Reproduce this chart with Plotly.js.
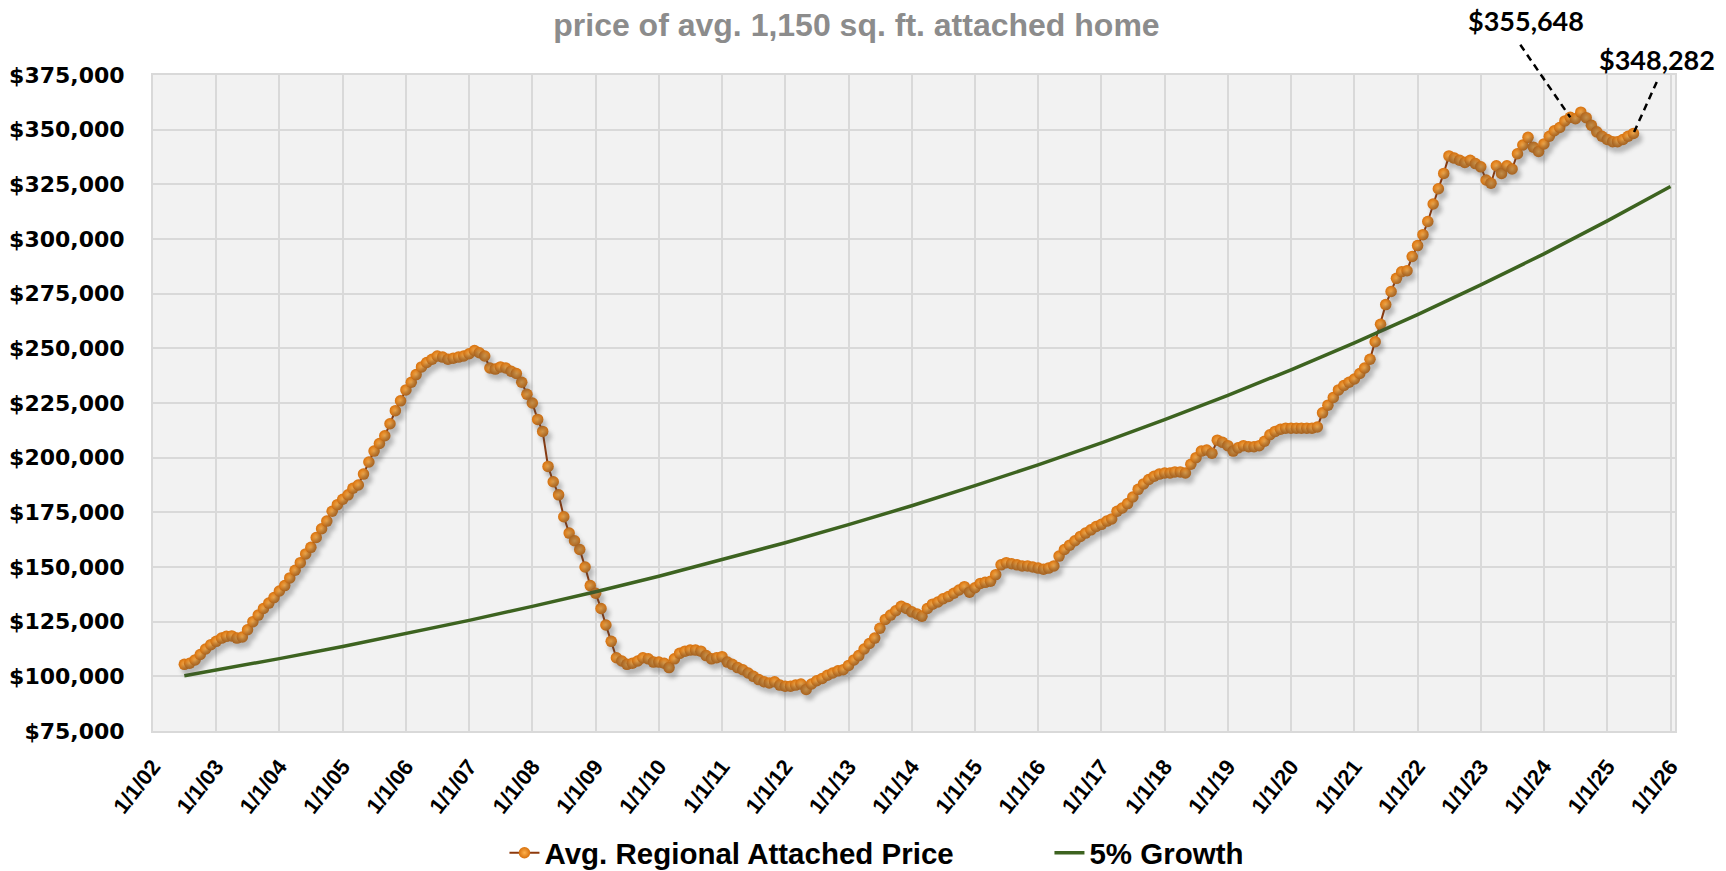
<!DOCTYPE html>
<html>
<head>
<meta charset="utf-8">
<script src="https://cdn.plot.ly/plotly-3.0.1.min.js"></script>
<style>
  html, body { margin: 0; padding: 0; background: #ffffff; }
  #chart { width: 1726px; height: 871px; }
</style>
</head>
<body>
<div id="chart"></div>
<script>
// ---------------- DATA ----------------
// Monthly average regional attached price, starting July 2002 (first of month)
const priceStartYear = 2002;
const priceStartMonth = 7;
const priceValues = [
  105500, 106000, 107500, 110000, 112500, 114500,
  116000, 117500, 118300, 118500, 117500, 118000, 121300, 125000, 128000, 131000, 133500, 136000,
  139000, 141500, 145000, 148500, 152000, 156000, 159000, 163500, 167500, 171000, 175500, 178500,
  181000, 183000, 186000, 187500, 192500, 198000, 203000, 206500, 210000, 215500, 221500, 226000,
  231000, 234500, 238000, 241500, 243500, 245000, 246500, 246000, 245000, 245500, 246000, 246500,
  247500, 249000, 248000, 246500, 241000, 240500, 241500, 241000, 239500, 238500, 234500, 229000,
  225000, 217500, 212000, 196000, 189000, 183000, 173000, 165500, 162000, 158000, 150000, 141500,
  138000, 131000, 123500, 116000, 108500, 107000, 105500, 106000, 107000, 108500, 108000, 106500,
  106500, 106000, 104000, 108000, 110500, 111500, 112000, 112000, 111500, 109500, 108000, 108500,
  109000, 106500, 105500, 104000, 103000, 101500, 100000, 98500, 97500, 97000, 97500, 96000,
  95500, 95500, 96000, 96500, 94000, 96500, 98000, 99000, 100500, 101500, 102500, 103000,
  105000, 107500, 109500, 112500, 115000, 117500, 122000, 126000, 128000, 130000, 132000, 131000,
  129500, 128500, 127500, 131000, 133000, 134000, 135500, 136500, 138000, 139500, 141000, 138500,
  140500, 142500, 143000, 143500, 146500, 151000, 152000, 151500, 151000, 150500, 150500, 150000,
  149500, 149000, 149500, 150500, 155000, 158000, 160000, 162000, 164000, 165500, 167000, 168500,
  169500, 171000, 172000, 175500, 177000, 179000, 182000, 185500, 188000, 190000, 191500, 192500,
  193000, 193000, 193500, 193500, 193000, 197000, 200000, 203000, 203500, 202000, 208000, 207000,
  205500, 203000, 204500, 205500, 205000, 205000, 205500, 207500, 210500, 212000, 213000, 213500,
  213500, 213500, 213500, 213500, 213500, 214000, 220500, 224000, 227500, 231000, 233000, 234500,
  236000, 238500, 241000, 245000, 253000, 261000, 270000, 276000, 282000, 285000, 285500, 292000,
  297000, 302000, 308000, 316000, 323000, 330000, 338000, 337000, 336000, 335000, 336000, 334500,
  333000, 327000, 325500, 333500, 330000, 333500, 332000, 339000, 343000, 346500, 342000, 340000,
  343500, 347000, 349500, 351000, 354000, 355648, 355000, 358000, 355500, 352000, 349000, 347000,
  345500, 344500, 344500, 345500, 347000, 348282
];

// 5% growth reference line
const growthDates = [
  '2002-07-01', '2003-01-01', '2004-01-01', '2005-01-01', '2006-01-01', '2007-01-01',
  '2008-01-01', '2009-01-01', '2010-01-01', '2011-01-01', '2012-01-01', '2013-01-01',
  '2014-01-01', '2015-01-01', '2016-01-01', '2017-01-01', '2018-01-01', '2019-01-01',
  '2020-01-01', '2021-01-01', '2022-01-01', '2023-01-01', '2024-01-01', '2025-01-01',
  '2026-01-01'
];
const growthValues = [
  100300, 102800, 108100, 113600, 119400, 125600,
  132000, 138700, 145800, 153300, 161100, 169400,
  178000, 187200, 196700, 206800, 217400, 228500,
  240200, 252500, 265400, 279000, 293200, 308300,
  324000
];

// Axis tick positions and labels
const tickDates = [
  '2002-01-01','2003-01-01','2004-01-01','2005-01-01','2006-01-01','2007-01-01',
  '2008-01-01','2009-01-01','2010-01-01','2011-01-01','2012-01-01','2013-01-01',
  '2014-01-01','2015-01-01','2016-01-01','2017-01-01','2018-01-01','2019-01-01',
  '2020-01-01','2021-01-01','2022-01-01','2023-01-01','2024-01-01','2025-01-01',
  '2026-01-01'
];
const tickLabels = [
  '1/1/02','1/1/03','1/1/04','1/1/05','1/1/06','1/1/07','1/1/08','1/1/09','1/1/10',
  '1/1/11','1/1/12','1/1/13','1/1/14','1/1/15','1/1/16','1/1/17','1/1/18','1/1/19',
  '1/1/20','1/1/21','1/1/22','1/1/23','1/1/24','1/1/25','1/1/26'
];

const seriesNames = ['Avg. Regional Attached Price', '5% Growth'];
const subtitleText = 'price of avg. 1,150 sq. ft. attached home';

// Callouts
const calloutDates = ['2024-06-01', '2025-06-01'];
const calloutValues = [355648, 348282];
const calloutLabels = ['$355,648', '$348,282'];

// ---------------- BUILD ----------------
function pad2(n) { return (n < 10 ? '0' : '') + n; }
const priceDates = priceValues.map(function (v, i) {
  const m0 = (priceStartMonth - 1) + i;
  const y = priceStartYear + Math.floor(m0 / 12);
  const m = (m0 % 12) + 1;
  return y + '-' + pad2(m) + '-01';
});

const xRange = ['2002-01-01', '2026-01-27'];
const yRange = [75000, 375000];
// shadow axes: same scale, nudged so the shadow sits a few pixels right/below
const xRangeShadow = ['2001-12-14', '2026-01-09'];
const yRangeShadow = [77300, 377300];

const traces = [
  {
    type: 'scatter',
    mode: 'lines+markers',
    x: priceDates,
    y: priceValues,
    xaxis: 'x2', yaxis: 'y2',
    showlegend: false,
    hoverinfo: 'skip',
    opacity: 0.33,
    line: { color: '#444444', width: 3 },
    marker: { size: 12, color: '#444444', line: { width: 0 } }
  },
  {
    type: 'scatter',
    mode: 'lines+markers',
    name: seriesNames[0],
    x: priceDates,
    y: priceValues,
    line: { color: '#8e3a0c', width: 2 },
    marker: {
      size: 11.5,
      color: '#d7700c',
      gradient: { type: 'radial', color: '#ffb24e' },
      line: { width: 0 }
    },
    hoverinfo: 'x+y'
  },
  {
    type: 'scatter',
    mode: 'lines',
    name: seriesNames[1],
    x: growthDates,
    y: growthValues,
    line: { color: '#3d6320', width: 3.5 },
    hoverinfo: 'x+y'
  }
];

const labelShift = [[-44, 97], [24, 74]];
const leaderStart = [[-51, -74], [24, -53]];
const annotations = [];
calloutLabels.forEach(function (t, i) {
  annotations.push({
    x: calloutDates[i], y: calloutValues[i], xref: 'x', yref: 'y',
    text: '<b>' + t + '</b>', showarrow: false,
    xshift: labelShift[i][0], yshift: labelShift[i][1],
    xanchor: 'center', yanchor: 'middle',
    font: { family: 'Lato, "Open Sans", sans-serif', size: 27, color: '#000000' }
  });
  annotations.push({
    x: calloutDates[i], y: calloutValues[i], xref: 'x', yref: 'y',
    text: '', showarrow: true, arrowhead: 0, arrowwidth: 2.5, arrowcolor: '#000000',
    ax: leaderStart[i][0], ay: leaderStart[i][1], standoff: 1,
    font: { size: 1 }
  });
});

const layout = {
  width: 1726,
  height: 871,
  margin: { l: 153, r: 51, t: 75, b: 140, autoexpand: false },
  paper_bgcolor: '#ffffff',
  plot_bgcolor: '#f2f2f2',
  showlegend: true,
  title: {
    text: subtitleText,
    x: 0.4962, xanchor: 'center', xref: 'container',
    y: 0.972, yanchor: 'middle', yref: 'container',
    font: { family: '"Liberation Sans", Arial, sans-serif', size: 32, color: '#8c8c8c', weight: 'bold' }
  },
  xaxis: {
    type: 'date',
    range: xRange,
    tickmode: 'array',
    tickvals: tickDates,
    ticktext: tickLabels,
    tickangle: -52,
    ticks: '',
    ticklabelstandoff: 12,
    tickfont: { family: '"Liberation Sans", Arial, sans-serif', size: 22, color: '#000000', weight: 'bold' },
    showgrid: true, gridcolor: '#d9d9d9', gridwidth: 2,
    showline: true, linecolor: '#d9d9d9', linewidth: 2, mirror: true,
    zeroline: false
  },
  yaxis: {
    range: yRange,
    tickmode: 'linear', tick0: 75000, dtick: 25000,
    tickformat: '$,.0f',
    ticks: '',
    ticklabelstandoff: 22,
    tickfont: { family: '"DejaVu Sans", sans-serif', size: 22, color: '#000000', weight: 'bold' },
    showgrid: true, gridcolor: '#d9d9d9', gridwidth: 2,
    showline: true, linecolor: '#d9d9d9', linewidth: 2, mirror: true,
    zeroline: false
  },
  xaxis2: { type: 'date', range: xRangeShadow, overlaying: 'x', visible: false, fixedrange: true },
  yaxis2: { range: yRangeShadow, overlaying: 'y', visible: false, fixedrange: true },
  legend: {
    orientation: 'h',
    x: 0.589, xanchor: 'center',
    y: -0.186, yanchor: 'middle',
    entrywidth: 500, entrywidthmode: 'pixels',
    font: { family: '"Liberation Sans", Arial, sans-serif', size: 29.5, color: '#000000', weight: 'bold' },
    bgcolor: 'rgba(0,0,0,0)'
  },
  annotations: annotations
};

Plotly.newPlot('chart', traces, layout, { displayModeBar: false, responsive: false }).then(function () {
  const svg = document.querySelector('#chart .main-svg');
  const NS = 'http://www.w3.org/2000/svg';
  let defs = svg.querySelector('defs');
  if (defs) {
    const f = document.createElementNS(NS, 'filter');
    f.setAttribute('id', 'shadowBlur');
    f.setAttribute('filterUnits', 'userSpaceOnUse');
    f.setAttribute('x', '-50'); f.setAttribute('y', '-50');
    f.setAttribute('width', '1826'); f.setAttribute('height', '971');
    const gb = document.createElementNS(NS, 'feGaussianBlur');
    gb.setAttribute('stdDeviation', '2');
    f.appendChild(gb);
    defs.appendChild(f);
    const sh = document.querySelector('#chart .overplot .x2y2 .scatterlayer .trace') ||
               document.querySelector('#chart .x2y2 .scatterlayer .trace');
    if (sh) sh.setAttribute('filter', 'url(#shadowBlur)');
  }
  document.querySelectorAll('#chart .annotation-arrow-g path').forEach(function (p) {
    p.style.strokeDasharray = '7,5';
  });
});
</script>
</body>
</html>
